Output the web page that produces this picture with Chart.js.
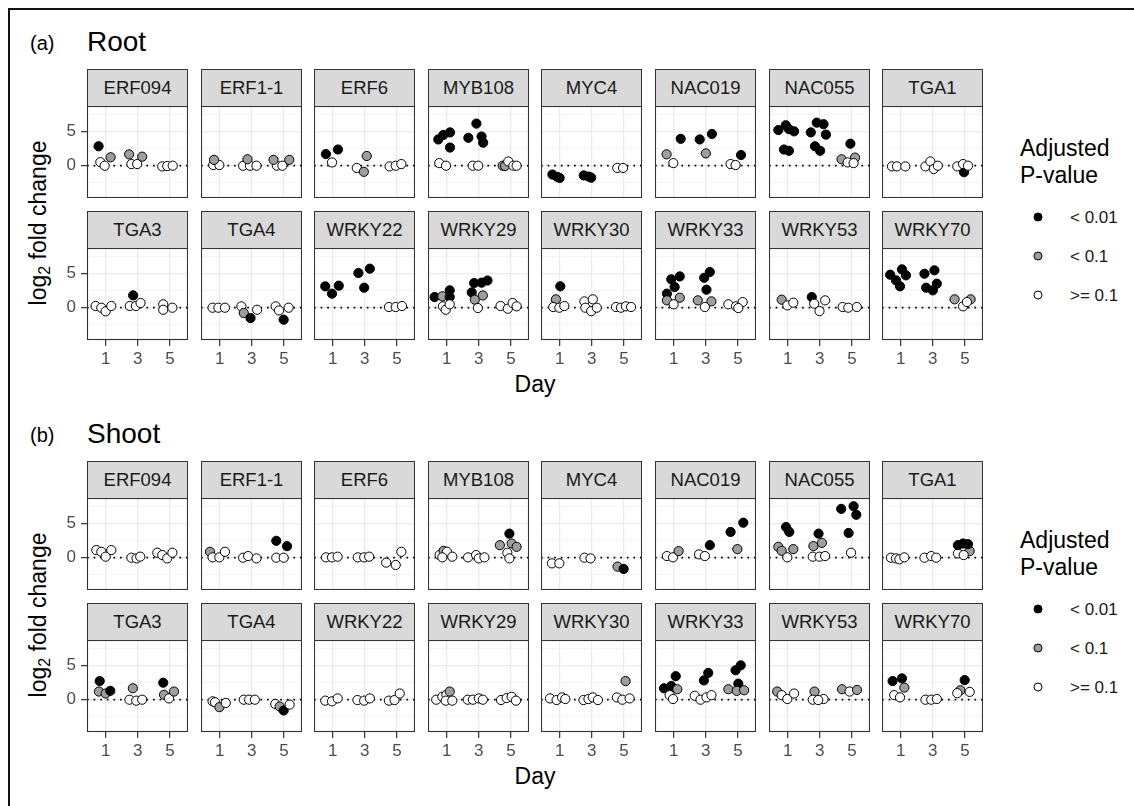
<!DOCTYPE html>
<html><head><meta charset="utf-8">
<script src="https://cdn.jsdelivr.net/npm/chart.js@4.4.1/dist/chart.umd.min.js"></script>
<style>
html,body{margin:0;padding:0;background:#fff;overflow:hidden;}
#fig{position:relative;width:1134px;height:806px;overflow:hidden;font-family:"Liberation Sans",Arial,sans-serif;background:#fff;}
.hline{position:absolute;left:8px;top:8px;width:1126px;height:2px;background:#111;}
.vline{position:absolute;left:8px;top:8px;width:2px;height:798px;background:#111;}
.strip{position:absolute;box-sizing:border-box;height:37px;width:101px;background:#d9d9d9;border:1px solid #333;border-bottom:none;color:#1a1a1a;font-size:18.5px;display:flex;align-items:center;justify-content:center;}
canvas{position:absolute;}
.txt{position:absolute;white-space:nowrap;line-height:1;}
.dot{position:absolute;width:7px;height:7px;border:1px solid #000;border-radius:50%;transform:translate(-50%,-50%);}
</style></head><body><div id="fig"><div class="hline"></div><div class="vline"></div></div>
<script>
// ---------- data ----------
const genes = ['ERF094','ERF1-1','ERF6','MYB108','MYC4','NAC019','NAC055','TGA1',
               'TGA3','TGA4','WRKY22','WRKY29','WRKY30','WRKY33','WRKY53','WRKY70'];
const dayLabels = ['1','3','5'];
const pLabels = ['< 0.01','< 0.1','>= 0.1'];
const pColors = ['#000000','#9e9e9e','#ffffff'];
const tissueNames = ['Root','Shoot'];
const tissueTags = ['(a)','(b)'];
// each point: [day (jittered), log2 fold change, p-class 0:<0.01 1:<0.1 2:>=0.1]
const root_ERF094 = [[0.56,2.86,0],[0.67,0.52,2],[0.94,0,2],[1.31,1.24,1],[2.46,1.67,1],[2.6,0.24,2],[2.96,0.24,2],[3.27,1.33,1],[4.52,-0.1,2],[4.83,-0.05,2],[5.17,0,2]];
const root_ERF1_1 = [[0.6,0.1,2],[0.98,0.1,2],[0.65,0.86,1],[2.46,0,2],[2.88,0,2],[3.29,0,2],[2.73,0.95,1],[4.56,0,2],[4.9,0,2],[4.35,0.86,1],[5.33,0.86,1]];
const root_ERF6 = [[0.58,1.71,0],[1.33,2.38,0],[0.96,0.48,2],[3.12,1.43,1],[2.5,-0.33,2],[2.94,-0.9,1],[4.54,-0.1,2],[4.92,0,2],[5.27,0.24,2]];
const root_MYB108 = [[0.79,4.52,0],[1.21,4.9,0],[0.48,3.86,0],[1.21,2.67,0],[0.54,0.38,2],[0.96,0,2],[2.85,6.19,0],[2.35,4.1,0],[3.17,4.29,0],[3.27,3.38,0],[2.62,0,2],[2.96,0,2],[4.48,0,1],[4.63,-0.05,1],[4.83,0.62,2],[5.15,0,2],[5.35,0,2]];
const root_MYC4 = [[0.55,-1.3,0],[0.85,-1.65,0],[1.0,-1.8,0],[2.5,-1.43,0],[2.8,-1.6,0],[2.96,-1.76,0],[4.58,-0.33,2],[4.94,-0.33,2]];
const root_NAC019 = [[0.56,1.67,1],[0.98,0.38,2],[1.44,3.95,0],[2.62,3.86,0],[3.38,4.67,0],[3.0,1.81,1],[4.54,0.24,2],[4.85,0.1,2],[5.19,1.57,0]];
const root_NAC055 = [[0.42,5.24,0],[0.88,5.95,0],[1.08,5.38,0],[1.4,5.05,0],[0.77,2.38,0],[1.08,2.19,0],[2.81,6.33,0],[3.23,6.1,0],[2.44,4.9,0],[3.38,4.57,0],[2.7,2.86,0],[3.02,2.19,0],[4.9,3.24,0],[4.35,0.95,1],[5.19,1.19,1],[4.73,0.48,2],[5.1,0.38,2]];
const root_TGA1 = [[0.46,-0.1,2],[0.77,-0.1,2],[1.29,-0.1,2],[2.54,-0.1,2],[2.85,0.62,2],[3.06,-0.48,2],[3.31,0,2],[4.94,-0.95,0],[4.52,-0.1,2],[4.88,0.24,2],[5.19,0,2]];
const root_TGA3 = [[0.375,0.25,2],[0.73,0,2],[1.0,-0.54,2],[1.35,0.25,2],[2.71,1.81,0],[2.5,0.25,2],[2.88,0.25,2],[3.17,0.69,2],[4.58,0.5,2],[4.58,-0.3,2],[5.15,0,2]];
const root_TGA4 = [[0.56,0,2],[0.92,0,2],[1.33,0,2],[2.35,0.2,2],[2.5,-0.78,1],[2.92,-1.52,0],[3.33,-0.3,2],[4.48,0.2,2],[4.69,-0.4,2],[4.98,-1.76,0],[5.29,0,2]];
const root_WRKY22 = [[0.54,3.14,0],[0.96,2.06,0],[1.38,3.24,0],[2.6,5.1,0],[3.31,5.74,0],[2.96,2.94,0],[4.5,0.1,2],[4.92,0.1,2],[5.31,0.25,2]];
const root_WRKY29 = [[0.25,1.57,0],[0.73,1.67,1],[1.19,2.55,0],[1.19,1.57,0],[0.77,0.2,2],[0.94,-0.3,2],[1.19,0.5,2],[2.56,2.25,0],[2.71,3.63,0],[3.17,3.68,0],[3.54,4.0,0],[2.75,1.18,1],[3.25,1.8,1],[2.94,-0.05,2],[4.35,0.25,2],[4.8,-0.15,2],[5.1,0.69,2],[5.35,0.2,2]];
const root_WRKY30 = [[1.04,3.14,0],[0.77,1.23,1],[0.6,0.1,2],[0.98,0,2],[1.29,0.25,2],[2.54,0.93,2],[3.06,1.23,2],[2.6,0,2],[2.96,-0.5,2],[3.31,0,2],[4.5,0.1,2],[4.81,0,2],[5.12,0.2,2],[5.44,0.1,2]];
const root_WRKY33 = [[0.58,2.06,0],[0.85,4.17,0],[1.38,4.6,0],[1.06,3.04,0],[0.58,1.08,1],[1.38,1.47,1],[1.0,0.5,2],[3.25,5.25,0],[2.9,4.4,0],[3.04,2.65,0],[2.5,1.08,1],[3.35,0.93,1],[2.94,0.1,2],[4.4,0.5,2],[4.88,0.2,2],[5.29,0.83,2],[5.02,-0.05,2]];
const root_WRKY53 = [[0.63,1.18,1],[0.98,0.34,2],[1.35,0.74,2],[2.5,1.57,0],[2.65,0.59,2],[3.33,1.08,2],[2.98,-0.5,2],[4.42,0.1,2],[4.77,0,2],[5.3,0.1,2]];
const root_WRKY70 = [[0.35,4.85,0],[0.71,4.02,0],[0.96,3.14,0],[1.08,5.64,0],[1.33,4.76,0],[2.48,5.0,0],[3.1,5.5,0],[2.58,2.94,0],[3.0,2.55,0],[3.25,3.53,0],[4.35,1.23,1],[4.88,0.2,2],[5.35,1.23,1],[5.12,0.83,2]];

const shoot_ERF094 = [[0.42,1.12,2],[0.73,0.87,2],[1.0,0.15,2],[1.35,1.12,2],[2.6,0,2],[2.92,-0.1,2],[3.15,0.15,2],[4.21,0.73,2],[4.52,0.39,2],[4.83,-0.1,2],[5.15,0.73,2]];
const shoot_ERF1_1 = [[0.4,0.87,1],[0.56,0.05,2],[0.98,0.05,2],[1.33,0.87,2],[2.46,0,2],[2.77,0.24,2],[3.29,-0.1,2],[4.52,2.48,0],[5.19,1.7,0],[4.52,0,2],[4.98,0,2]];
const shoot_ERF6 = [[0.58,0.05,2],[0.96,0.05,2],[1.31,0.15,2],[2.56,0.05,2],[2.96,0.05,2],[3.27,0.15,2],[4.33,-0.73,2],[4.92,-1.07,2],[5.27,0.87,2]];
const shoot_MYB108 = [[0.56,0.39,2],[0.81,1.02,1],[1.02,0.87,2],[0.73,0.05,2],[1.35,0.15,2],[2.33,0.05,2],[2.83,0.39,2],[3.0,-0.1,2],[3.35,0.05,2],[4.9,3.54,0],[4.31,1.84,1],[5.04,2.09,1],[5.35,1.6,1],[4.77,0.73,2],[4.9,-0.1,2]];
const shoot_MYC4 = [[0.52,-0.83,2],[0.98,-0.83,2],[2.54,0,2],[2.92,-0.1,2],[4.6,-1.31,1],[4.98,-1.65,0]];
const shoot_NAC019 = [[0.58,0.24,2],[0.96,0.05,2],[1.31,0.97,1],[2.58,0.49,2],[2.94,0.24,2],[3.25,1.84,0],[4.54,3.79,0],[5.33,5.15,0],[4.96,1.26,1]];
const shoot_NAC055 = [[0.9,4.51,0],[1.1,3.79,0],[0.42,1.6,1],[0.63,1.02,1],[1.35,1.26,1],[0.98,0.05,2],[2.92,3.54,0],[2.6,1.7,1],[3.13,2.18,1],[2.56,0.15,2],[2.98,0.15,2],[3.33,0.24,2],[4.33,7.18,0],[5.1,7.57,0],[5.27,6.31,0],[4.79,3.64,0],[4.94,0.73,2]];
const shoot_TGA1 = [[0.4,0,2],[0.71,-0.1,2],[0.92,-0.24,2],[1.23,0.05,2],[2.48,0,2],[2.9,0.24,2],[3.21,0,2],[5.29,0.97,1],[4.56,0.63,2],[4.92,0.39,2],[4.56,1.84,0],[4.88,2.09,0],[5.19,1.99,0]];
const shoot_TGA3 = [[0.63,2.74,0],[0.58,1.2,1],[1.0,0.91,1],[1.29,1.3,0],[2.69,1.68,1],[2.48,0,2],[2.9,-0.14,2],[3.27,0,2],[4.58,2.5,0],[4.63,0.72,1],[4.94,0.19,2],[5.25,1.2,1]];
const shoot_TGA4 = [[0.56,-0.24,2],[0.71,-0.38,2],[0.98,-1.1,1],[1.38,-0.48,2],[2.5,0,2],[2.83,0,2],[3.19,0,2],[4.46,-0.63,2],[4.73,-1.0,1],[4.98,-1.59,0],[5.35,-0.72,2]];
const shoot_WRKY22 = [[0.54,-0.14,2],[0.96,-0.24,2],[1.31,0.19,2],[2.54,-0.05,2],[2.96,-0.14,2],[3.31,0.19,2],[4.5,-0.14,2],[4.85,-0.05,2],[5.17,0.91,2]];
const shoot_WRKY29 = [[0.35,0,2],[0.73,0.43,2],[0.98,0.72,2],[1.19,1.2,1],[0.94,-0.14,2],[1.35,-0.14,2],[2.31,0,2],[2.63,0,2],[3.0,0.19,2],[3.25,0,2],[4.38,-0.05,2],[4.73,0.24,2],[5.04,0.43,2],[5.31,-0.14,2]];
const shoot_WRKY30 = [[0.4,0.19,2],[0.81,-0.05,2],[1.15,0.34,2],[1.35,0.1,2],[2.48,-0.05,2],[2.79,0.1,2],[3.06,0.34,2],[3.38,-0.05,2],[5.1,2.74,1],[4.56,0.34,2],[4.9,0,2],[5.35,0.19,2]];
const shoot_WRKY33 = [[0.4,1.68,0],[0.85,2.02,0],[1.13,3.46,0],[1.23,1.54,1],[0.75,0.67,2],[0.96,0.1,2],[3.15,3.94,0],[2.88,2.84,0],[2.31,0.58,2],[2.67,0,2],[3.04,0.34,2],[3.35,0.67,2],[5.17,5.05,0],[4.85,4.33,0],[5.02,2.36,0],[4.4,1.54,1],[4.92,1.3,1],[5.38,1.39,1]];
const shoot_WRKY53 = [[0.35,1.2,1],[0.63,0.67,2],[0.98,0.1,2],[1.4,0.91,2],[2.67,1.2,1],[2.56,0,2],[3.23,0.1,2],[2.9,-0.05,2],[4.38,1.54,1],[4.85,1.2,2],[5.31,1.44,1]];
const shoot_WRKY70 = [[0.5,2.74,0],[1.08,3.13,0],[1.23,1.78,1],[0.6,0.67,2],[0.96,0.34,2],[2.54,0,2],[2.9,0,2],[3.25,0.1,2],[4.98,2.88,0],[4.71,1.39,1],[4.52,0.96,2],[5.29,1.15,2]];

const rootSets = [root_ERF094,root_ERF1_1,root_ERF6,root_MYB108,root_MYC4,root_NAC019,root_NAC055,root_TGA1,
                  root_TGA3,root_TGA4,root_WRKY22,root_WRKY29,root_WRKY30,root_WRKY33,root_WRKY53,root_WRKY70];
const shootSets = [shoot_ERF094,shoot_ERF1_1,shoot_ERF6,shoot_MYB108,shoot_MYC4,shoot_NAC019,shoot_NAC055,shoot_TGA1,
                   shoot_TGA3,shoot_TGA4,shoot_WRKY22,shoot_WRKY29,shoot_WRKY30,shoot_WRKY33,shoot_WRKY53,shoot_WRKY70];

// ---------- layout ----------
const Y_MIN = -4.75, Y_MAX = 8.78, X_MIN = 0.42, X_MAX = 3.56;
const FONT = '"Liberation Sans", Arial, sans-serif';
const fig = document.getElementById('fig');
const PW = 101, PH = 92, SH = 37, AX = 30;
const colLeft = c => Math.round(87 + 113.6 * c);
const tissueOffset = [0, 392];
const rowTop = [69, 211];
const dayPos = d => (d + 1) / 2;

function addText(html, x, y, size, opts) {
  opts = opts || {};
  const d = document.createElement('div');
  d.className = 'txt';
  d.innerHTML = html;
  d.style.fontSize = size + 'px';
  d.style.color = opts.color || '#000';
  d.style.left = x + 'px';
  d.style.top = y + 'px';
  let tf = opts.anchor === 'left' ? 'translate(0,-50%)' : 'translate(-50%,-50%)';
  if (opts.rotate) tf += ' rotate(-90deg)';
  d.style.transform = tf;
  fig.appendChild(d);
}

const boxPlugin = {
  id: 'panelBox',
  afterDraw(chart) {
    const a = chart.chartArea, ctx = chart.ctx;
    ctx.save();
    ctx.strokeStyle = '#333';
    ctx.lineWidth = 1.1;
    ctx.strokeRect(a.left + 0.5, a.top + 0.5, a.right - a.left - 1, a.bottom - a.top - 1);
    ctx.restore();
  }
};

function zeroPad(s) { s.paddingTop = 0; s.paddingBottom = 0; s.paddingLeft = 0; s.paddingRight = 0; }

function makePanel(pts, left, top, showY, showX) {
  const cv = document.createElement('canvas');
  const w = PW + (showY ? AX : 0), h = PH + (showX ? AX : 0);
  cv.width = w; cv.height = h;
  cv.style.left = (left - (showY ? AX : 0)) + 'px';
  cv.style.top = top + 'px';
  cv.style.width = w + 'px'; cv.style.height = h + 'px';
  fig.appendChild(cv);
  new Chart(cv, {
    type: 'scatter',
    data: {
      datasets: [
        {
          data: pts.map(p => ({ x: dayPos(p[0]), y: p[1], p: p[2] })),
          backgroundColor: c => (c.raw ? pColors[c.raw.p] : '#fff'),
          borderColor: '#000', borderWidth: 1,
          pointRadius: 4.6, pointHoverRadius: 4.6, order: 1
        },
        {
          type: 'line',
          data: [{ x: X_MIN, y: 0 }, { x: X_MAX, y: 0 }],
          borderColor: '#000', borderWidth: 1.7, borderDash: [1.7, 4.9],
          pointRadius: 0, fill: false, order: 2
        }
      ]
    },
    options: {
      animation: false, responsive: false, events: [],
      layout: { padding: 0, autoPadding: false },
      plugins: { legend: { display: false }, tooltip: { enabled: false } },
      scales: {
        x: {
          type: 'linear', min: X_MIN, max: X_MAX,
          ticks: { stepSize: 1, includeBounds: false, autoSkip: false, maxRotation: 0,
                   display: showX, padding: 3, color: '#4d4d4d',
                   font: { family: FONT, size: 17 },
                   callback: v => dayLabels[Math.round(v) - 1] },
          grid: { color: '#ebebeb', lineWidth: 1.3, drawTicks: showX, tickLength: 6,
                  tickColor: '#333', tickWidth: 1.2 },
          border: { display: false },
          afterFit: s => { s.height = showX ? AX : 0; zeroPad(s); }
        },
        y: {
          type: 'linear', min: Y_MIN, max: Y_MAX,
          ticks: { stepSize: 2.5, includeBounds: false, autoSkip: false,
                   display: showY, padding: 5, color: '#4d4d4d',
                   font: { family: FONT, size: 17 },
                   callback: v => (v === 0 || v === 5) ? String(v) : '' },
          grid: {
            color: c => (c.tick && c.tick.value % 5 === 0) ? '#ebebeb' : '#f2f2f2',
            lineWidth: c => (c.tick && c.tick.value % 5 === 0) ? 1.3 : 0.8,
            drawTicks: showY, tickLength: 6, tickWidth: 1.2,
            tickColor: c => (c.tick && c.tick.value % 5 === 0) ? '#333' : 'rgba(0,0,0,0)'
          },
          border: { display: false },
          afterFit: s => { s.width = showY ? AX : 0; zeroPad(s); }
        }
      }
    },
    plugins: [boxPlugin]
  });
}

[rootSets, shootSets].forEach((sets, t) => {
  const off = tissueOffset[t];
  addText(tissueTags[t], 30, 42.5 + off, 20, { anchor: 'left' });
  addText(tissueNames[t], 87, 42 + off, 28, { anchor: 'left' });
  addText('log<sub style="font-size:16px;vertical-align:-4px;line-height:0">2</sub> fold change', 38, 223 + off, 23, { rotate: true });
  addText('Day', 535, 383.5 + off, 23);
  // legend
  addText('Adjusted', 1020, 148 + off, 23, { anchor: 'left' });
  addText('P-value', 1020, 175 + off, 23, { anchor: 'left' });
  pLabels.forEach((lab, i) => {
    const yy = 216.5 + off + i * 39.2;
    const d = document.createElement('div');
    d.className = 'dot';
    d.style.left = '1038px'; d.style.top = yy + 'px';
    d.style.background = pColors[i];
    fig.appendChild(d);
    addText(lab.replace('<', '&lt;').replace('>', '&gt;'), 1070, yy, 17, { anchor: 'left', color: '#1a1a1a' });
  });
  sets.forEach((pts, g) => {
    const r = Math.floor(g / 8), c = g % 8;
    const left = colLeft(c), top = rowTop[r] + off;
    const s = document.createElement('div');
    s.className = 'strip';
    s.style.left = left + 'px'; s.style.top = top + 'px';
    s.textContent = genes[g];
    fig.appendChild(s);
    makePanel(pts, left, top + SH, c === 0, r === 1);
  });
});
</script></body></html>
